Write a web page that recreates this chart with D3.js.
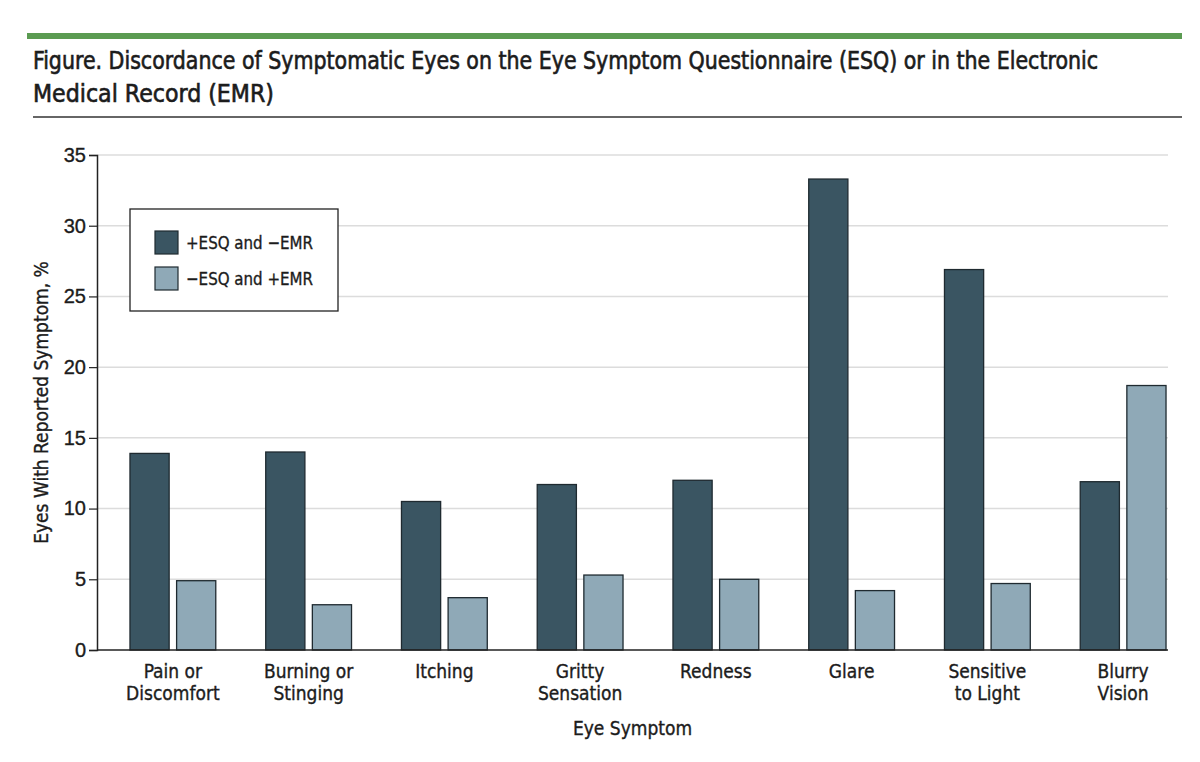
<!DOCTYPE html>
<html>
<head>
<meta charset="utf-8">
<script src="https://cdn.jsdelivr.net/npm/d3@7"></script>
<style>
  body { margin: 0; background: #fff; }
  svg { font-family: "Liberation Sans Narrow", "DejaVu Sans Condensed", "Open Sans", sans-serif; }
  .heavy { stroke: #1c1c1c; stroke-width: 0.35px; }
</style>
</head>
<body>
<script>
// values
let symptoms = [
    ["Pain or", "Discomfort"],
    ["Burning or", "Stinging"],
    ["Itching"],
    ["Gritty", "Sensation"],
    ["Redness"],
    ["Glare"],
    ["Sensitive", "to Light"],
    ["Blurry", "Vision"]
];
let esqPosEmrNeg = [13.9, 14.0, 10.5, 11.7, 12.0, 33.3, 26.9, 11.9];
let esqNegEmrPos = [4.9, 3.2, 3.7, 5.3, 5.0, 4.2, 4.7, 18.7];
let seriesNames = ["+ESQ and \u2212EMR", "\u2212ESQ and +EMR"];
let yTicks = [0, 5, 10, 15, 20, 25, 30, 35];

let colors = ["#3a5562", "#8fa9b7"];

let svg =
    d3.select("body")
        .append("svg")
        .attr("width", 1200)
        .attr("height", 762);

// title block
svg.append("rect")
    .attr("x", 27).attr("y", 33)
    .attr("width", 1155).attr("height", 6)
    .style("fill", "#5b9b52");

svg.append("text")
    .attr("class", "heavy")
    .attr("x", 33).attr("y", 69)
    .attr("textLength", 1065)
    .attr("lengthAdjust", "spacingAndGlyphs")
    .style("font-size", "24px")
    .style("fill", "#1c1c1c")
    .style("stroke-width", "0.6px")
    .text("Figure. Discordance of Symptomatic Eyes on the Eye Symptom Questionnaire (ESQ) or in the Electronic");

svg.append("text")
    .attr("class", "heavy")
    .attr("x", 33).attr("y", 102)
    .attr("textLength", 241)
    .attr("lengthAdjust", "spacingAndGlyphs")
    .style("font-size", "24px")
    .style("fill", "#1c1c1c")
    .style("stroke-width", "0.6px")
    .text("Medical Record (EMR)");

svg.append("line")
    .attr("x1", 33).attr("x2", 1182)
    .attr("y1", 117).attr("y2", 117)
    .style("stroke", "#333")
    .style("stroke-width", 1.5);

// plot area
let plotLeft = 97, plotRight = 1168, plotTop = 155, plotBottom = 650;

let xScaler =
    d3.scaleBand()
        .domain(d3.range(symptoms.length))
        .range([105, 1191])
        .paddingInner(0.368)
        .paddingOuter(0.184);

let subScaler =
    d3.scaleBand()
        .domain([0, 1])
        .range([0, xScaler.bandwidth()])
        .paddingInner(0.16);

let yScaler =
    d3.scaleLinear()
        .domain([0, 35])
        .range([plotBottom, plotTop]);

// gridlines
svg.append("g")
    .selectAll("line")
    .data(yTicks.filter(d => d > 0))
    .enter()
    .append("line")
        .attr("x1", plotLeft).attr("x2", plotRight)
        .attr("y1", d => yScaler(d)).attr("y2", d => yScaler(d))
        .style("stroke", "#dcdcdc")
        .style("stroke-width", 1.5);

// y axis
let yAxis = svg.append("g")
    .attr("transform", `translate(${plotLeft},0)`)
    .call(d3.axisLeft(yScaler).tickValues(yTicks).tickSize(8).tickPadding(3));

yAxis.select(".domain").style("stroke", "#222").style("stroke-width", 1.5);
yAxis.selectAll(".tick line").style("stroke", "#222").style("stroke-width", 1.2);
yAxis.selectAll(".tick text")
    .attr("class", "heavy")
    .style("font-size", "20px")
    .style("fill", "#1c1c1c")
    .style("font-family", "inherit");

svg.append("text")
    .attr("class", "heavy")
    .attr("transform", `translate(48, ${(plotTop + plotBottom) / 2}) rotate(-90)`)
    .style("text-anchor", "middle")
    .style("font-size", "19px")
    .style("fill", "#1c1c1c")
    .text("Eyes With Reported Symptom, %");

// bars
let groups =
    svg.selectAll(".group")
        .data(symptoms)
        .enter()
        .append("g")
        .attr("class", "group")
        .attr("transform", (d, i) => `translate(${xScaler(i)},0)`);

groups.selectAll("rect")
    .data((d, i) => [esqPosEmrNeg[i], esqNegEmrPos[i]])
    .enter()
    .append("rect")
        .attr("x", (d, j) => subScaler(j))
        .attr("width", subScaler.bandwidth())
        .attr("y", d => yScaler(d))
        .attr("height", d => plotBottom - yScaler(d))
        .style("fill", (d, j) => colors[j])
        .style("stroke", "#1f2a30")
        .style("stroke-width", 1.3);

// x baseline
svg.append("line")
    .attr("x1", plotLeft).attr("x2", plotRight)
    .attr("y1", plotBottom).attr("y2", plotBottom)
    .style("stroke", "#222")
    .style("stroke-width", 1.5);

// x tick labels
groups.append("text")
    .attr("class", "heavy")
    .attr("x", xScaler.bandwidth() / 2)
    .attr("y", 678)
    .style("text-anchor", "middle")
    .style("font-size", "19px")
    .style("fill", "#1c1c1c")
    .selectAll("tspan")
    .data(d => d)
    .enter()
    .append("tspan")
        .attr("x", xScaler.bandwidth() / 2)
        .attr("dy", (d, k) => k === 0 ? 0 : 22)
        .text(d => d);

svg.append("text")
    .attr("class", "heavy")
    .attr("x", (plotLeft + plotRight) / 2)
    .attr("y", 735)
    .style("text-anchor", "middle")
    .style("font-size", "19px")
    .style("fill", "#1c1c1c")
    .text("Eye Symptom");

// legend
let legend = svg.append("g");

legend.append("rect")
    .attr("x", 130).attr("y", 209)
    .attr("width", 208).attr("height", 102)
    .style("fill", "#fff")
    .style("stroke", "#222")
    .style("stroke-width", 1.3);

let legendArr =
    legend.selectAll(".legend")
        .data(seriesNames)
        .enter()
        .append("g")
        .attr("class", "legend")
        .attr("transform", (d, i) => `translate(155, ${231 + i * 36})`);

legendArr.append("rect")
    .attr("width", 23)
    .attr("height", 23)
    .style("fill", (d, i) => colors[i])
    .style("stroke", "#1f2a30")
    .style("stroke-width", 1.2);

legendArr.append("text")
    .attr("class", "heavy")
    .attr("x", 31)
    .attr("y", 12)
    .attr("dy", ".35em")
    .attr("textLength", 127)
    .attr("lengthAdjust", "spacingAndGlyphs")
    .style("font-size", "18px")
    .style("fill", "#1c1c1c")
    .text(d => d);
</script>
</body>
</html>
